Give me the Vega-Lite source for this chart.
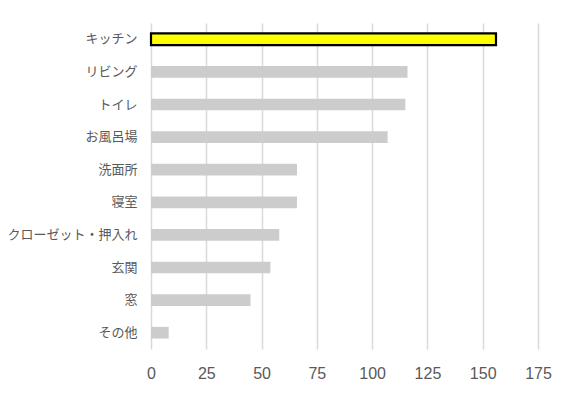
{
  "$schema": "https://vega.github.io/schema/vega-lite/v6.json",
  "width": 387,
  "height": 326,
  "autosize": {"type": "none"},
  "padding": {"left": 151, "top": 23, "right": 37, "bottom": 49},
  "background": "#ffffff",
  "config": {"view": {"stroke": null}},
  "data": {
    "values": [
      {"place": "キッチン", "count": 156},
      {"place": "リビング", "count": 116},
      {"place": "トイレ", "count": 115},
      {"place": "お風呂場", "count": 107},
      {"place": "洗面所", "count": 66},
      {"place": "寝室", "count": 66},
      {"place": "クローゼット・押入れ", "count": 58},
      {"place": "玄関", "count": 54},
      {"place": "窓", "count": 45},
      {"place": "その他", "count": 8}
    ]
  },
  "mark": {"type": "bar", "cornerRadius": 0},
  "encoding": {
    "y": {
      "field": "place",
      "type": "nominal",
      "sort": null,
      "scale": {"paddingInner": 0.64, "paddingOuter": 0.32},
      "axis": {
        "title": null,
        "domain": false,
        "ticks": false,
        "grid": false,
        "labelPadding": 14,
        "labelFont": "Noto Sans CJK JP",
        "labelFontSize": 13,
        "labelColor": "#595959",
        "labelLimit": 200
      }
    },
    "x": {
      "field": "count",
      "type": "quantitative",
      "scale": {"domain": [0, 175], "nice": false},
      "axis": {
        "title": null,
        "values": [0, 25, 50, 75, 100, 125, 150, 175],
        "domain": false,
        "ticks": false,
        "grid": true,
        "gridColor": "#D9D9D9",
        "gridWidth": 1.5,
        "labelFlush": false,
        "labelPadding": 16,
        "labelFont": "Liberation Sans",
        "labelFontSize": 16,
        "labelColor": "#595959"
      }
    },
    "color": {
      "condition": {"test": "datum.place === 'キッチン'", "value": "#FFFF00"},
      "value": "#CCCCCC"
    },
    "stroke": {
      "condition": {"test": "datum.place === 'キッチン'", "value": "#000000"},
      "value": null
    },
    "strokeWidth": {
      "condition": {"test": "datum.place === 'キッチン'", "value": 2.2},
      "value": 0
    }
  }
}
